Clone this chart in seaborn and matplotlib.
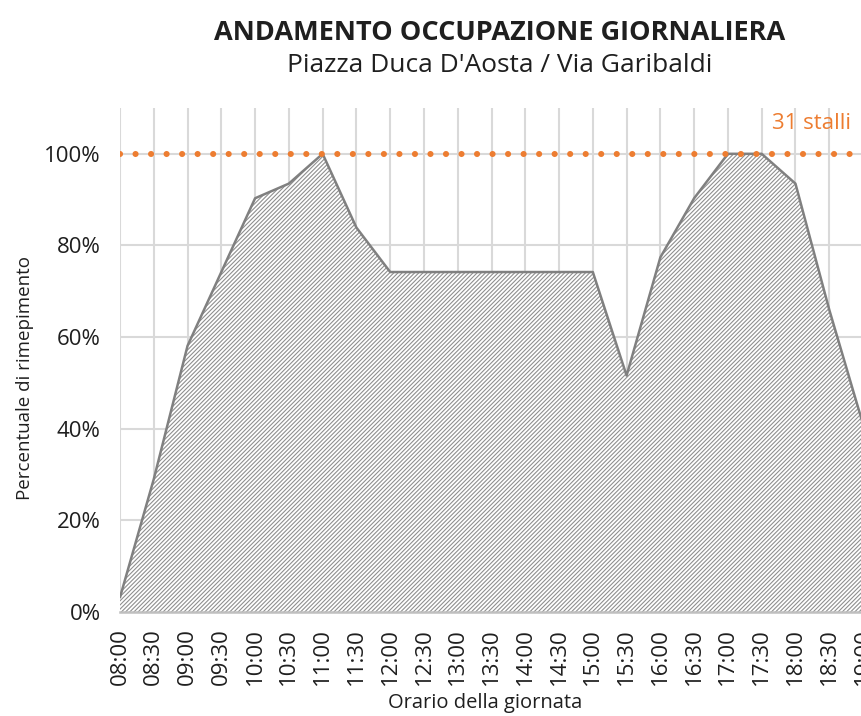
import matplotlib
matplotlib.use("Agg")
import matplotlib.pyplot as plt
import seaborn as sns
import pandas as pd

# Occupancy readings, every half hour (percentage of the 31 bays)
orari = ["08:00", "08:30", "09:00", "09:30", "10:00", "10:30", "11:00", "11:30",
         "12:00", "12:30", "13:00", "13:30", "14:00", "14:30", "15:00", "15:30",
         "16:00", "16:30", "17:00", "17:30", "18:00", "18:30", "19:00"]
occupazione = [3.2, 29.0, 58.1, 74.2, 90.3, 93.5, 100.0, 83.9,
               74.2, 74.2, 74.2, 74.2, 74.2, 74.2, 74.2, 51.6,
               77.4, 90.3, 100.0, 100.0, 93.5, 66.0, 41.0]
capienza_label = "31 stalli"
capienza_pct = 100.0
y_ticks = [0, 20, 40, 60, 80, 100]

df = pd.DataFrame({"pos": range(len(orari)), "orario": orari, "occ": occupazione})

sns.set_theme(style="white")
plt.rcParams["font.family"] = ["Open Sans", "DejaVu Sans"]
plt.rcParams["hatch.color"] = "#8f8f8f"
plt.rcParams["hatch.linewidth"] = 0.8

fig = plt.figure(figsize=(8.62, 7.16), dpi=100)
ax = fig.add_axes([120 / 862, 104 / 716, 743 / 862, 504 / 716])

txt_c = "#1f1f1f"
grid_c = "#d9d9d9"
for yv in y_ticks[1:]:
    ax.axhline(yv, color=grid_c, lw=1.5, zorder=0)
for xv in df["pos"]:
    ax.axvline(xv, color=grid_c, lw=1.5, zorder=0)

# hatched area under the occupancy curve
ax.fill_between(df["pos"], 0, df["occ"], facecolor="white", edgecolor="#8f8f8f",
                hatch="////////", linewidth=0, zorder=2)
sns.lineplot(data=df, x="pos", y="occ", ax=ax, color="#808080", lw=1.8, zorder=3)

# capacity line
cap = pd.DataFrame({"pos": [df["pos"].min(), df["pos"].max() + 1],
                    "v": [capienza_pct, capienza_pct]})
sns.lineplot(data=cap, x="pos", y="v", ax=ax, color="#ed7d31", lw=4.4, zorder=4,
             dashes=False)
ax.lines[-1].set_linestyle((0, (0.01, 2.53)))
ax.lines[-1].set_dash_capstyle("round")
ax.text(21.65, 104.3, capienza_label, color="#ed7d31", fontsize=16,
        ha="right", va="bottom")

ax.set_xlim(0, 22)
ax.set_ylim(0, 110)
ax.set_xticks(df["pos"])
ax.set_xticklabels(orari, rotation=90, fontsize=16, color=txt_c)
ax.set_yticks(y_ticks)
ax.set_yticklabels([f"{v}%" for v in y_ticks], fontsize=16, color=txt_c)

for s in ["top", "right", "left"]:
    ax.spines[s].set_visible(False)
ax.spines["bottom"].set_color("#bfbfbf")
ax.spines["bottom"].set_linewidth(1.8)
ax.spines["bottom"].set_zorder(5)
ax.tick_params(axis="x", direction="inout", length=9, width=1.5, color="#bfbfbf", pad=7)
ax.tick_params(axis="y", length=0, pad=14)

ax.set_xlabel("Orario della giornata", fontsize=14.5, color=txt_c)
ax.xaxis.set_label_coords((485 - 120) / 743, -(703 - 612) / 504)
ax.xaxis.label.set_va("center")
ax.set_ylabel("Percentuale di rimepimento", fontsize=13.5, color=txt_c)
ax.yaxis.set_label_coords(-(120 - 25) / 743, (612 - 378) / 504)
ax.yaxis.label.set_va("center")

fig.text(500 / 862, 1 - 33 / 716, "ANDAMENTO OCCUPAZIONE GIORNALIERA", ha="center",
         va="center", fontsize=19.5, fontweight="bold", color=txt_c)
fig.text(500 / 862, 1 - 66 / 716, "Piazza Duca D'Aosta / Via Garibaldi", ha="center",
         va="center", fontsize=19, color=txt_c)

fig.savefig("out.png", dpi=100)
